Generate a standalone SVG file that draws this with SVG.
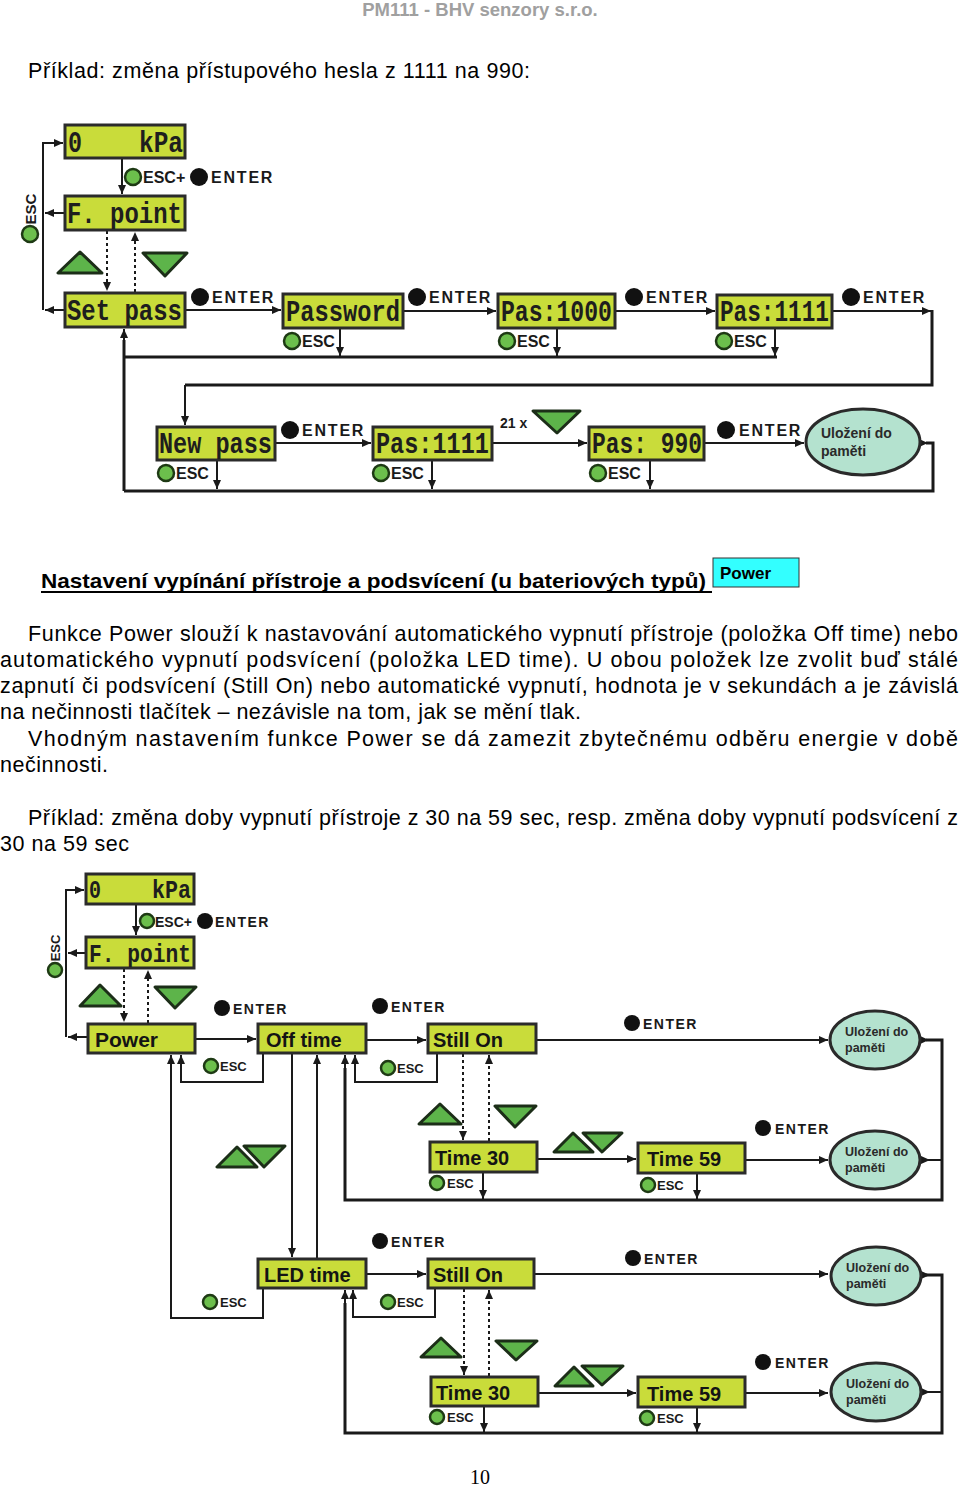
<svg xmlns="http://www.w3.org/2000/svg" width="960" height="1487" viewBox="0 0 960 1487">
<defs>
<marker id="ah" markerWidth="9" markerHeight="8" refX="9" refY="4" orient="auto" markerUnits="userSpaceOnUse"><path d="M0,0 L9,4 L0,8 Z" fill="#1a1a1a"/></marker>
<style>
.lcd{fill:#c9dc3a;stroke:#2b2b2b;stroke-width:3}
.mono{font-family:"Liberation Mono","DejaVu Sans Mono",monospace;font-weight:bold;fill:#1e1e1e}
.lt{font-family:"Liberation Sans",Arial,sans-serif;font-weight:bold;fill:#141414}
.lb{font-family:"Liberation Sans",Arial,sans-serif;font-weight:bold;fill:#1a1a1a}
.gb{fill:#6cbf4c;stroke:#1e3a14;stroke-width:2.5}
.bb{fill:#111}
.tri{fill:#5db44a;stroke:#1c2e18;stroke-width:3;stroke-linejoin:round}
.ell{fill:#b4e2cf;stroke:#2a2a2a;stroke-width:3}
.et{font-family:"Liberation Sans",Arial,sans-serif;font-weight:bold;fill:#2a2a2a}
.ln{stroke:#1a1a1a;stroke-width:2;fill:none}
.tk{stroke:#1a1a1a;stroke-width:3;fill:none}
.dt{stroke:#1a1a1a;stroke-width:2;fill:none;stroke-dasharray:3 3}
.body{font-family:"Liberation Sans",Arial,sans-serif;font-size:21.5px;fill:#000}
</style>
</defs>
<rect width="960" height="1487" fill="#fff"/>

<text x="480" y="16" text-anchor="middle" style="font-family:'Liberation Sans',Arial,sans-serif;font-weight:bold;font-size:18.5px;fill:#a0a0a0">PM111 - BHV senzory s.r.o.</text>
<text class="body" x="28" y="78" textLength="502" lengthAdjust="spacing">Příklad: změna přístupového hesla z 1111 na 990:</text>

<!-- ===== TOP DIAGRAM connectors ===== -->
<g id="connectors-top">
<path class="ln" d="M43,310 V143 H63" marker-end="url(#ah)"/>
<path class="ln" d="M65,213 H45" marker-end="url(#ah)"/>
<path class="ln" d="M65,310 H45" marker-end="url(#ah)"/>
<path class="ln" d="M122,158 V194" marker-end="url(#ah)"/>
<path class="dt" d="M107,231 V291" marker-end="url(#ah)"/>
<path class="dt" d="M135,292 V232" marker-end="url(#ah)"/>
<path class="ln" d="M185,310 H281" marker-end="url(#ah)"/>
<path class="ln" d="M403,311 H496" marker-end="url(#ah)"/>
<path class="ln" d="M615,311 H715" marker-end="url(#ah)"/>
<path class="ln" d="M832,311 H931" marker-end="url(#ah)"/>
<path class="tk" d="M932,310 V385 H185"/>
<path class="ln" d="M185,385 V425" marker-end="url(#ah)"/>
<path class="ln" d="M340,328 V356" marker-end="url(#ah)"/>
<path class="ln" d="M557,328 V356" marker-end="url(#ah)"/>
<path class="ln" d="M775,328 V356" marker-end="url(#ah)"/>
<path class="tk" d="M124,357 H777"/>
<path class="tk" d="M124,491 V340"/>
<path class="ln" d="M124,345 V329" marker-end="url(#ah)"/>
<path class="tk" d="M124,491 H933 V443 H926"/>
<path class="ln" d="M917,443 H928" marker-end="url(#ah)"/>
<path class="ln" d="M217,460 V489" marker-end="url(#ah)"/>
<path class="ln" d="M432,460 V489" marker-end="url(#ah)"/>
<path class="ln" d="M650,460 V489" marker-end="url(#ah)"/>
<path class="ln" d="M275,443 H371" marker-end="url(#ah)"/>
<path class="ln" d="M492,443 H587" marker-end="url(#ah)"/>
<path class="ln" d="M704,443 H804" marker-end="url(#ah)"/>
</g>

<!-- ===== TOP nodes ===== -->
<g id="t-kpa"><rect class="lcd" x="65" y="125" width="120" height="33"/><text class="mono" x="68" y="152" font-size="29" textLength="14" lengthAdjust="spacingAndGlyphs">0</text><text class="mono" x="139" y="152" font-size="29" textLength="44" lengthAdjust="spacingAndGlyphs">kPa</text></g>
<g id="t-fpoint"><rect class="lcd" x="65" y="196" width="120" height="34"/><text class="mono" x="67" y="223" font-size="29" textLength="115" lengthAdjust="spacingAndGlyphs">F. point</text></g>
<g id="t-setpass"><rect class="lcd" x="65" y="293" width="120" height="34"/><text class="mono" x="67" y="320" font-size="29" textLength="115" lengthAdjust="spacingAndGlyphs">Set pass</text></g>
<g id="t-password"><rect class="lcd" x="283" y="294" width="120" height="34"/><text class="mono" x="286" y="321" font-size="29" textLength="114" lengthAdjust="spacingAndGlyphs">Password</text></g>
<g id="t-pas1000"><rect class="lcd" x="498" y="294" width="117" height="34"/><text class="mono" x="501" y="321" font-size="29" textLength="111" lengthAdjust="spacingAndGlyphs">Pas:1000</text></g>
<g id="t-pas1111a"><rect class="lcd" x="717" y="295" width="115" height="33"/><text class="mono" x="720" y="321" font-size="29" textLength="109" lengthAdjust="spacingAndGlyphs">Pas:1111</text></g>
<g id="t-newpass"><rect class="lcd" x="157" y="427" width="118" height="33"/><text class="mono" x="159" y="453" font-size="29" textLength="113" lengthAdjust="spacingAndGlyphs">New pass</text></g>
<g id="t-pas1111b"><rect class="lcd" x="373" y="427" width="119" height="33"/><text class="mono" x="376" y="453" font-size="29" textLength="113" lengthAdjust="spacingAndGlyphs">Pas:1111</text></g>
<g id="t-pas990"><rect class="lcd" x="589" y="427" width="115" height="33"/><text class="mono" x="592" y="453" font-size="29" textLength="110" lengthAdjust="spacingAndGlyphs">Pas: 990</text></g>
<g id="t-store"><ellipse class="ell" cx="863" cy="442" rx="57" ry="33"/><text class="et" x="821" y="438" font-size="14">Uložení do</text><text class="et" x="821" y="456" font-size="14">paměti</text></g>

<g id="t-labels">
<circle class="gb" cx="133" cy="177" r="8"/><text class="lb" x="143" y="183" font-size="16">ESC+</text>
<circle class="bb" cx="199" cy="177" r="9"/><text class="lb" x="211" y="183" font-size="16" letter-spacing="1.8">ENTER</text>
<circle class="gb" cx="30" cy="234" r="8"/><text class="lb" transform="translate(36,209) rotate(-90)" text-anchor="middle" font-size="15">ESC</text>
<polygon class="tri" points="58,273 102,273 80,252"/>
<polygon class="tri" points="143,253 187,253 165,276"/>
<circle class="bb" cx="200" cy="297" r="9"/><text class="lb" x="212" y="303" font-size="16" letter-spacing="1.8">ENTER</text>
<circle class="bb" cx="417" cy="297" r="9"/><text class="lb" x="429" y="303" font-size="16" letter-spacing="1.8">ENTER</text>
<circle class="bb" cx="634" cy="297" r="9"/><text class="lb" x="646" y="303" font-size="16" letter-spacing="1.8">ENTER</text>
<circle class="bb" cx="851" cy="297" r="9"/><text class="lb" x="863" y="303" font-size="16" letter-spacing="1.8">ENTER</text>
<circle class="gb" cx="292" cy="341" r="8"/><text class="lb" x="302" y="347" font-size="16">ESC</text>
<circle class="gb" cx="507" cy="341" r="8"/><text class="lb" x="517" y="347" font-size="16">ESC</text>
<circle class="gb" cx="724" cy="341" r="8"/><text class="lb" x="734" y="347" font-size="16">ESC</text>
<circle class="gb" cx="166" cy="473" r="8"/><text class="lb" x="176" y="479" font-size="16">ESC</text>
<circle class="gb" cx="381" cy="473" r="8"/><text class="lb" x="391" y="479" font-size="16">ESC</text>
<circle class="gb" cx="598" cy="473" r="8"/><text class="lb" x="608" y="479" font-size="16">ESC</text>
<circle class="bb" cx="290" cy="430" r="9"/><text class="lb" x="302" y="436" font-size="16" letter-spacing="1.8">ENTER</text>
<circle class="bb" cx="726" cy="430" r="9"/><text class="lb" x="739" y="436" font-size="16" letter-spacing="1.8">ENTER</text>
<text class="lb" x="500" y="428" font-size="14">21 x</text>
<polygon class="tri" points="533,411 580,411 557,433"/>
</g>

<!-- ===== TEXT ===== -->
<text x="41" y="588" textLength="665" lengthAdjust="spacingAndGlyphs" style="font-family:'Liberation Sans',Arial,sans-serif;font-weight:bold;font-size:21px;fill:#000">Nastavení vypínání přístroje a podsvícení (u bateriových typů)</text>
<line x1="41" y1="592" x2="712" y2="592" stroke="#000" stroke-width="2"/>
<rect x="713" y="558" width="86" height="29" fill="#33ffff" stroke="#333" stroke-width="1"/>
<text x="720" y="579" style="font-family:'Liberation Sans',Arial,sans-serif;font-weight:bold;font-size:17px;fill:#000">Power</text>

<text class="body" x="28" y="641" textLength="930" lengthAdjust="spacing">Funkce Power slouží k nastavování automatického vypnutí přístroje (položka Off time) nebo</text>
<text class="body" x="0" y="667" textLength="958" lengthAdjust="spacing">automatického vypnutí podsvícení (položka LED time). U obou položek lze zvolit buď stálé</text>
<text class="body" x="0" y="693" textLength="958" lengthAdjust="spacing">zapnutí či podsvícení (Still On) nebo automatické vypnutí, hodnota je v sekundách a je závislá</text>
<text class="body" x="0" y="719" textLength="581" lengthAdjust="spacing">na nečinnosti tlačítek – nezávisle na tom, jak se mění tlak.</text>
<text class="body" x="28" y="746" textLength="930" lengthAdjust="spacing">Vhodným nastavením funkce Power se dá zamezit zbytečnému odběru energie v době</text>
<text class="body" x="0" y="772" textLength="108" lengthAdjust="spacing">nečinnosti.</text>
<text class="body" x="28" y="825" textLength="930" lengthAdjust="spacing">Příklad: změna doby vypnutí přístroje z 30 na 59 sec, resp. změna doby vypnutí podsvícení z</text>
<text class="body" x="0" y="851" textLength="129" lengthAdjust="spacing">30 na 59 sec</text>

<!-- ===== BOTTOM DIAGRAM connectors ===== -->
<g id="connectors-bottom">
<path class="ln" d="M66,1037 V890 H84" marker-end="url(#ah)"/>
<path class="ln" d="M86,953 H68" marker-end="url(#ah)"/>
<path class="ln" d="M88,1037 H68" marker-end="url(#ah)"/>
<path class="ln" d="M136,904 V935" marker-end="url(#ah)"/>
<path class="dt" d="M124,969 V1022" marker-end="url(#ah)"/>
<path class="dt" d="M148,1023 V970" marker-end="url(#ah)"/>
<path class="ln" d="M195,1039 H256" marker-end="url(#ah)"/>
<path class="ln" d="M366,1040 H426" marker-end="url(#ah)"/>
<path class="ln" d="M536,1040 H828" marker-end="url(#ah)"/>
<path class="ln" d="M918,1040 H929" marker-end="url(#ah)"/>
<path class="tk" d="M926,1040 H942 V1200 H345 V1068"/>
<path class="ln" d="M345,1070 V1055" marker-end="url(#ah)"/>
<path class="ln" d="M437,1053 V1082 H355 V1055" marker-end="url(#ah)"/>
<path class="ln" d="M263,1053 V1082 H181 V1055" marker-end="url(#ah)"/>
<path class="ln" d="M263,1288 V1318 H171 V1055" marker-end="url(#ah)"/>
<path class="ln" d="M292,1053 V1257" marker-end="url(#ah)"/>
<path class="ln" d="M317,1259 V1055" marker-end="url(#ah)"/>
<path class="dt" d="M463,1054 V1140" marker-end="url(#ah)"/>
<path class="dt" d="M489,1141 V1055" marker-end="url(#ah)"/>
<path class="ln" d="M537,1159 H636" marker-end="url(#ah)"/>
<path class="ln" d="M745,1160 H828" marker-end="url(#ah)"/>
<path class="ln" d="M919,1160 H930" marker-end="url(#ah)"/>
<path class="ln" d="M927,1160 H942"/>
<path class="ln" d="M483,1172 V1199" marker-end="url(#ah)"/>
<path class="ln" d="M697,1173 V1199" marker-end="url(#ah)"/>

<path class="ln" d="M366,1274 H426" marker-end="url(#ah)"/>
<path class="ln" d="M534,1274 H828" marker-end="url(#ah)"/>
<path class="ln" d="M919,1275 H930" marker-end="url(#ah)"/>
<path class="tk" d="M926,1275 H942 V1433 H345 V1303"/>
<path class="ln" d="M345,1305 V1290" marker-end="url(#ah)"/>
<path class="ln" d="M435,1288 V1317 H353 V1290" marker-end="url(#ah)"/>
<path class="dt" d="M464,1289 V1375" marker-end="url(#ah)"/>
<path class="dt" d="M489,1376 V1290" marker-end="url(#ah)"/>
<path class="ln" d="M538,1393 H636" marker-end="url(#ah)"/>
<path class="ln" d="M745,1393 H828" marker-end="url(#ah)"/>
<path class="ln" d="M919,1392 H930" marker-end="url(#ah)"/>
<path class="ln" d="M927,1392 H942"/>
<path class="ln" d="M484,1406 V1432" marker-end="url(#ah)"/>
<path class="ln" d="M697,1407 V1432" marker-end="url(#ah)"/>
</g>

<!-- ===== BOTTOM nodes ===== -->
<g id="b-kpa"><rect class="lcd" x="86" y="874" width="108" height="30"/><text class="mono" x="89" y="898" font-size="25" textLength="12" lengthAdjust="spacingAndGlyphs">0</text><text class="mono" x="152" y="898" font-size="25" textLength="39" lengthAdjust="spacingAndGlyphs">kPa</text></g>
<g id="b-fpoint"><rect class="lcd" x="86" y="937" width="108" height="31"/><text class="mono" x="89" y="962" font-size="25" textLength="102" lengthAdjust="spacingAndGlyphs">F. point</text></g>
<g id="b-power"><rect class="lcd" x="88" y="1024" width="107" height="29"/><text class="lt" x="95" y="1047" font-size="21">Power</text></g>
<g id="b-offtime"><rect class="lcd" x="258" y="1024" width="108" height="29"/><text class="lt" x="266" y="1047" font-size="20">Off time</text></g>
<g id="b-stillon1"><rect class="lcd" x="428" y="1024" width="108" height="29"/><text class="lt" x="433" y="1047" font-size="20">Still On</text></g>
<g id="b-time30a"><rect class="lcd" x="430" y="1142" width="107" height="30"/><text class="lt" x="435" y="1165" font-size="20">Time 30</text></g>
<g id="b-time59a"><rect class="lcd" x="638" y="1143" width="107" height="30"/><text class="lt" x="647" y="1166" font-size="20">Time 59</text></g>
<g id="b-ledtime"><rect class="lcd" x="258" y="1259" width="108" height="29"/><text class="lt" x="264" y="1282" font-size="20">LED time</text></g>
<g id="b-stillon2"><rect class="lcd" x="428" y="1259" width="106" height="29"/><text class="lt" x="433" y="1282" font-size="20">Still On</text></g>
<g id="b-time30b"><rect class="lcd" x="431" y="1377" width="107" height="29"/><text class="lt" x="436" y="1400" font-size="20">Time 30</text></g>
<g id="b-time59b"><rect class="lcd" x="638" y="1377" width="107" height="30"/><text class="lt" x="647" y="1401" font-size="20">Time 59</text></g>
<g id="b-store1"><ellipse class="ell" cx="875" cy="1040" rx="45" ry="29"/><text class="et" x="845" y="1036" font-size="12.5">Uložení do</text><text class="et" x="845" y="1052" font-size="12.5">paměti</text></g>
<g id="b-store2"><ellipse class="ell" cx="875" cy="1160" rx="45" ry="29"/><text class="et" x="845" y="1156" font-size="12.5">Uložení do</text><text class="et" x="845" y="1172" font-size="12.5">paměti</text></g>
<g id="b-store3"><ellipse class="ell" cx="876" cy="1276" rx="45" ry="29"/><text class="et" x="846" y="1272" font-size="12.5">Uložení do</text><text class="et" x="846" y="1288" font-size="12.5">paměti</text></g>
<g id="b-store4"><ellipse class="ell" cx="876" cy="1392" rx="45" ry="29"/><text class="et" x="846" y="1388" font-size="12.5">Uložení do</text><text class="et" x="846" y="1404" font-size="12.5">paměti</text></g>

<g id="b-labels">
<circle class="gb" cx="147" cy="921" r="7"/><text class="lb" x="155" y="927" font-size="14">ESC+</text>
<circle class="bb" cx="205" cy="921" r="8"/><text class="lb" x="215" y="927" font-size="14" letter-spacing="1.5">ENTER</text>
<circle class="gb" cx="55" cy="970" r="7"/><text class="lb" transform="translate(60,948) rotate(-90)" text-anchor="middle" font-size="13">ESC</text>
<polygon class="tri" points="80,1006 121,1006 100,985"/>
<polygon class="tri" points="155,987 196,987 175,1008"/>
<circle class="bb" cx="222" cy="1008" r="8"/><text class="lb" x="233" y="1014" font-size="14" letter-spacing="1.5">ENTER</text>
<circle class="bb" cx="380" cy="1006" r="8"/><text class="lb" x="391" y="1012" font-size="14" letter-spacing="1.5">ENTER</text>
<circle class="bb" cx="632" cy="1023" r="8"/><text class="lb" x="643" y="1029" font-size="14" letter-spacing="1.5">ENTER</text>
<circle class="bb" cx="763" cy="1128" r="8"/><text class="lb" x="775" y="1134" font-size="14" letter-spacing="1.5">ENTER</text>
<circle class="bb" cx="380" cy="1241" r="8"/><text class="lb" x="391" y="1247" font-size="14" letter-spacing="1.5">ENTER</text>
<circle class="bb" cx="633" cy="1258" r="8"/><text class="lb" x="644" y="1264" font-size="14" letter-spacing="1.5">ENTER</text>
<circle class="bb" cx="763" cy="1362" r="8"/><text class="lb" x="775" y="1368" font-size="14" letter-spacing="1.5">ENTER</text>
<circle class="gb" cx="211" cy="1066" r="7"/><text class="lb" x="220" y="1071" font-size="13">ESC</text>
<circle class="gb" cx="388" cy="1068" r="7"/><text class="lb" x="397" y="1073" font-size="13">ESC</text>
<circle class="gb" cx="437" cy="1183" r="7"/><text class="lb" x="447" y="1188" font-size="13">ESC</text>
<circle class="gb" cx="648" cy="1185" r="7"/><text class="lb" x="657" y="1190" font-size="13">ESC</text>
<circle class="gb" cx="210" cy="1302" r="7"/><text class="lb" x="220" y="1307" font-size="13">ESC</text>
<circle class="gb" cx="388" cy="1302" r="7"/><text class="lb" x="397" y="1307" font-size="13">ESC</text>
<circle class="gb" cx="437" cy="1417" r="7"/><text class="lb" x="447" y="1422" font-size="13">ESC</text>
<circle class="gb" cx="647" cy="1418" r="7"/><text class="lb" x="657" y="1423" font-size="13">ESC</text>
<polygon class="tri" points="419,1124 461,1124 440,1104"/>
<polygon class="tri" points="495,1106 536,1106 515,1127"/>
<polygon class="tri" points="217,1167 257,1167 237,1147"/>
<polygon class="tri" points="244,1146 285,1146 264,1167"/>
<polygon class="tri" points="554,1152 593,1152 573,1133"/>
<polygon class="tri" points="583,1133 622,1133 602,1152"/>
<polygon class="tri" points="421,1357 461,1357 441,1338"/>
<polygon class="tri" points="496,1341 537,1341 516,1360"/>
<polygon class="tri" points="555,1386 593,1386 574,1367"/>
<polygon class="tri" points="582,1366 623,1366 602,1385"/>
</g>

<text x="480" y="1484" text-anchor="middle" style="font-family:'Liberation Serif','Times New Roman',serif;font-size:20px;fill:#000">10</text>
</svg>
